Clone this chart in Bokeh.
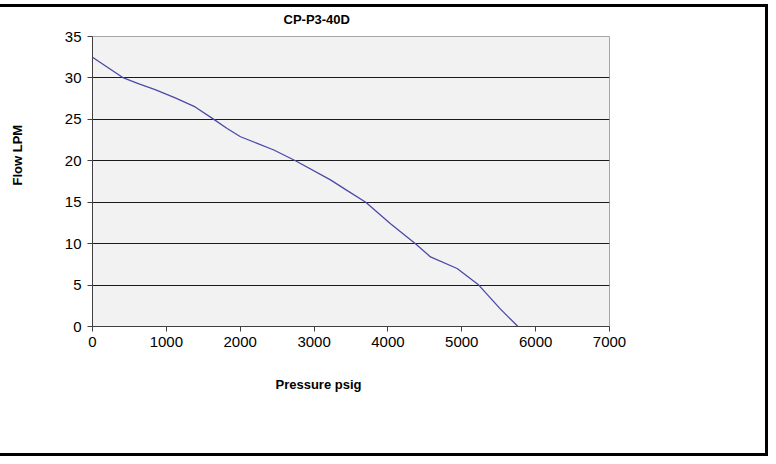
from bokeh.plotting import figure
from bokeh.models import Range1d, FixedTicker, Title
from bokeh.embed import file_html
from bokeh.resources import INLINE

# Data
title_text = "CP-P3-40D"
x_label = "Pressure psig"
y_label = "Flow LPM"
pressure = [0, 420, 620, 848, 1120, 1390, 1643, 1823, 2004, 2230, 2455, 2748,
            3222, 3450, 3700, 4035, 4373, 4576, 4937, 5230, 5524, 5760]
flow = [32.5, 30.0, 29.3, 28.6, 27.6, 26.5, 25.0, 23.9, 22.9, 22.1, 21.3, 20.0,
        17.7, 16.4, 15.0, 12.4, 10.0, 8.4, 7.0, 5.0, 2.1, 0.0]
x_ticks = [0, 1000, 2000, 3000, 4000, 5000, 6000, 7000]
y_ticks = [0, 5, 10, 15, 20, 25, 30, 35]

FONT = "Liberation Sans"

p = figure(width=768, height=456, output_backend="svg", toolbar_location=None,
           x_range=Range1d(0, 7000), y_range=Range1d(0, 35),
           min_border_left=92, min_border_right=159,
           min_border_top=36, min_border_bottom=130)

p.background_fill_color = "#f2f2f2"
p.border_fill_color = None
p.outline_line_color = "#a6a6a6"
p.outline_line_width = 1
p.styles = {"box-shadow": "inset 0 4px 0 0 white, inset -3px -3px 0 0 black, inset 0 7px 0 0 black",
            "background-color": "white"}

# title
p.title.text = title_text
p.title.align = "left"
p.title.offset = 191
p.title.vertical_align = "top"
p.title.standoff = 16
p.title.text_font = FONT
p.title.text_font_size = "13px"
p.title.text_font_style = "bold"
p.title.text_color = "black"

# axes
for ax in (p.xaxis[0], p.yaxis[0]):
    ax.axis_line_color = "#404040"
    ax.major_tick_line_color = "#404040"
    ax.major_tick_out = 5
    ax.major_tick_in = 0
    ax.minor_tick_line_color = None
    ax.major_label_text_font = FONT
    ax.major_label_text_font_size = "15px"
    ax.major_label_text_color = "black"
p.xaxis[0].ticker = FixedTicker(ticks=x_ticks)
p.yaxis[0].ticker = FixedTicker(ticks=y_ticks)
p.xaxis[0].major_label_standoff = 5
p.yaxis[0].major_label_standoff = 6

# grid
p.xgrid.grid_line_color = None
p.ygrid.ticker = FixedTicker(ticks=y_ticks[1:-1])
p.ygrid.grid_line_color = "#1a1a1a"
p.ygrid.grid_line_width = 1

# curve
p.line(pressure, flow, line_color="#4a4aa8", line_width=1.3)

# axis titles placed as in the reference
xt = Title(text=x_label, align="left", offset=183, standoff=51,
           text_font=FONT, text_font_size="13px", text_font_style="bold",
           text_color="black")
p.add_layout(xt, "below")
spacer = Title(text=" ", standoff=34, text_font_size="1px")
p.add_layout(spacer, "left")
yt = Title(text=y_label, align="left", offset=141, standoff=0,
           text_font=FONT, text_font_size="13px", text_font_style="bold",
           text_color="black")
p.add_layout(yt, "left")

open("out.html", "w").write(file_html(p, INLINE))
